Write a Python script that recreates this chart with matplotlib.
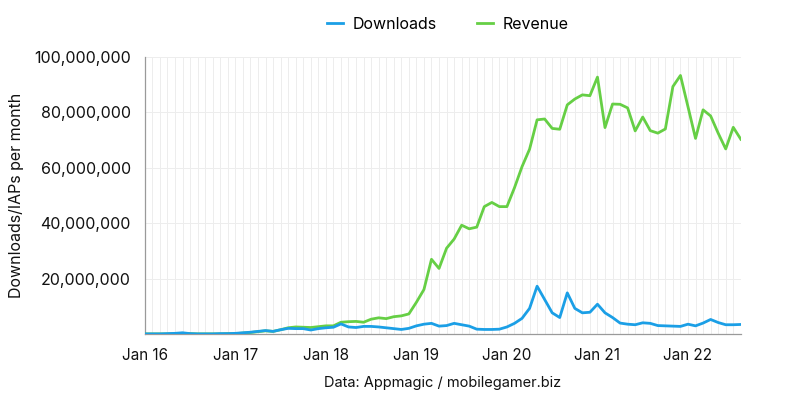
import matplotlib
matplotlib.use("Agg")
import matplotlib.pyplot as plt
from matplotlib.ticker import FuncFormatter, MultipleLocator
import numpy as np

# Monthly values, Jan 2016 .. Aug 2022 (millions)
downloads_m = [
    0.1, 0.1, 0.1, 0.2, 0.3, 0.5, 0.2, 0.1, 0.1, 0.1, 0.2, 0.2,
    0.3, 0.5, 0.7, 1.0, 1.3, 1.0, 1.6, 2.1, 2.0, 2.0, 1.5, 2.0,
    2.3, 2.5, 3.7, 2.6, 2.4, 2.8, 2.8, 2.6, 2.3, 2.0, 1.7, 2.1,
    3.0, 3.6, 3.9, 2.9, 3.1, 3.9, 3.4, 2.9, 1.8, 1.7, 1.7, 1.8,
    2.6, 3.9, 5.7, 9.3, 17.3, 12.5, 7.7, 6.0, 14.9, 9.3, 7.7, 7.9,
    10.8, 7.7, 6.0, 4.0, 3.6, 3.4, 4.1, 3.9, 3.1, 3.0, 2.9, 2.8,
    3.6, 3.0, 4.0, 5.3, 4.2, 3.4, 3.4, 3.5,
]
revenue_m = [
    0.1, 0.1, 0.1, 0.1, 0.2, 0.3, 0.2, 0.1, 0.1, 0.1, 0.1, 0.2,
    0.2, 0.4, 0.6, 0.9, 1.2, 1.0, 1.6, 2.3, 2.6, 2.5, 2.4, 2.7,
    3.0, 3.0, 4.3, 4.5, 4.6, 4.3, 5.4, 5.9, 5.6, 6.3, 6.6, 7.3,
    11.5, 16.1, 27.0, 23.7, 31.0, 34.3, 39.3, 38.0, 38.6, 46.0, 47.5, 46.0,
    46.0, 52.8, 60.4, 66.7, 77.3, 77.6, 74.2, 73.9, 82.7, 84.8, 86.3, 86.0,
    92.7, 74.5, 83.0, 82.9, 81.6, 73.3, 78.3, 73.4, 72.5, 74.0, 89.3, 93.3,
    82.0, 70.6, 80.9, 78.7, 72.5, 66.8, 74.6, 70.3,
]
year_labels = ["Jan 16", "Jan 17", "Jan 18", "Jan 19", "Jan 20", "Jan 21", "Jan 22"]

BLUE = "#1b9fe6"
GREEN = "#66cf45"

plt.rcParams["font.family"] = ["Inter", "DejaVu Sans"]

months = np.arange(len(downloads_m))
downloads = np.array(downloads_m) * 1e6
revenue = np.array(revenue_m) * 1e6

fig = plt.figure(figsize=(8, 3.95), dpi=100)
ax = fig.add_axes([0.181, 0.154, 0.745, 0.702])

ax.plot(months, revenue, color=GREEN, lw=2.0, label="Revenue", zorder=3)
ax.plot(months, downloads, color=BLUE, lw=2.0, label="Downloads", zorder=4)

ax.set_xlim(0, len(months) - 1)
ax.set_ylim(0, 100e6)
ax.set_yticks([20e6, 40e6, 60e6, 80e6, 100e6])
ax.yaxis.set_major_formatter(FuncFormatter(lambda v, _: f"{v:,.0f}"))
ax.set_xticks(np.arange(0, len(months), 12))
ax.set_xticklabels(year_labels)
ax.xaxis.set_minor_locator(MultipleLocator(1))

ax.grid(True, which="both", axis="x", color="#ededed", lw=0.7)
ax.grid(True, which="major", axis="y", color="#ededed", lw=0.7)
ax.set_axisbelow(True)
ax.tick_params(which="both", length=0)
ax.tick_params(axis="y", labelsize=11.5, pad=10, colors="#111111")
ax.tick_params(axis="x", labelsize=11, pad=10, colors="#111111")

for side in ("top", "right"):
    ax.spines[side].set_visible(False)
for side in ("left", "bottom"):
    ax.spines[side].set_color("#9a9a9a")
    ax.spines[side].set_linewidth(0.9)

ax.set_ylabel("Downloads/IAPs per month", fontsize=11.5, labelpad=7, color="#111111")
ax.set_xlabel("Data: Appmagic / mobilegamer.biz", fontsize=10.5, labelpad=9, color="#111111")

h, l = ax.get_legend_handles_labels()
fig.legend(h[::-1], l[::-1], loc="center", bbox_to_anchor=(0.56, 0.938), ncol=2,
           frameon=False, fontsize=11.5, handlelength=1.0, columnspacing=2.5,
           handletextpad=0.6)

fig.savefig("out.png", dpi=100)
